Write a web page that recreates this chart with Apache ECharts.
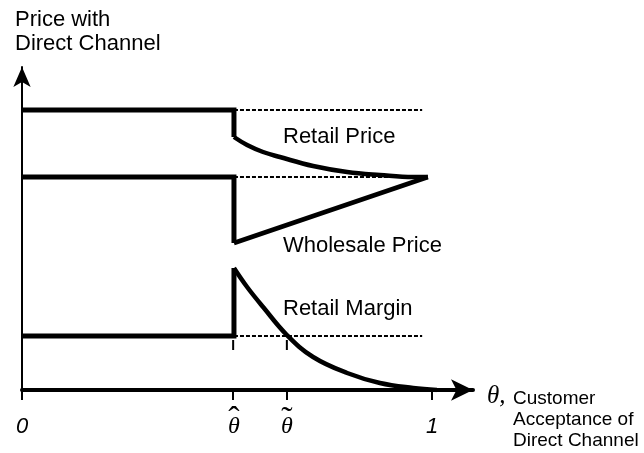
<!DOCTYPE html>
<html>
<head>
<meta charset="utf-8">
<script src="https://cdn.jsdelivr.net/npm/echarts@6/dist/echarts.min.js"></script>
<style>
  html, body { margin: 0; padding: 0; background: #fff; }
  #chart { width: 644px; height: 453px; }
</style>
</head>
<body>
<div id="chart"></div>
<script>
// positions of the two thresholds on the theta axis (0..1)
const thetaHat = 0.517;
const thetaTilde = 0.646;

// x axis ticks and their labels
const xTicks = [0, thetaHat, thetaTilde, 1];
const xTickLabels = ['{s|0}', '{t|θ}', '{t|θ}', '{s|1}'];
// accents drawn above the two theta labels
const accentTicks = [thetaHat, thetaTilde];
const accentLabels = ['ˆ', '˜'];

// retail price: flat level, drop at thetaHat, then decays to wholesale level
const retailStep = [[0, 280], [0.517, 280], [0.517, 253]];
const retailCurve = [[0.517, 253], [0.549, 245], [0.588, 238], [0.629, 233], [0.71, 224], [0.793, 218], [0.873, 215], [0.954, 213], [0.99, 213]];

// wholesale price: flat level, drop at thetaHat, then rises linearly
const wholesaleStep = [[0, 213], [0.517, 213], [0.517, 147]];
const wholesaleCurve = [[0.517, 147], [0.99, 213]];

// retail margin: flat level, jump at thetaHat, then decays to zero
const marginStep = [[0, 54], [0.517, 54], [0.517, 122]];
const marginCurve = [[0.517, 122], [0.549, 103], [0.588, 83], [0.646, 55], [0.71, 33], [0.793, 17], [0.873, 7], [0.954, 2], [1.012, 0]];

// dotted reference levels (the flat values before thetaHat)
const refLevels = [280, 213, 54];
const refEnd = 0.976;

// small marks below the margin reference line
const markXs = [0.515, thetaTilde];
const markRange = [50, 40];

const chart = echarts.init(document.getElementById('chart'));

const series = [];
function addLine(data, width, type, smooth) {
  series.push({
    type: 'line',
    data: data,
    showSymbol: false,
    smooth: smooth || false,
    silent: true,
    lineStyle: { color: '#000', width: width, type: type || 'solid', join: 'miter', cap: 'butt' }
  });
}

refLevels.forEach(v => addLine([[thetaHat, v], [refEnd, v]], 2, [4, 2]));
markXs.forEach(x => addLine([[x, markRange[0]], [x, markRange[1]]], 2));

addLine(retailStep, 5);
addLine(retailCurve, 4.5, 'solid', 0.4);
addLine(wholesaleStep, 5);
addLine(wholesaleCurve, 4.5);
addLine(marginStep, 5);
addLine(marginCurve, 4.5, 'solid', 0.4);

const sans = 'Liberation Sans, Arial, sans-serif';
const serif = 'Liberation Serif, Times New Roman, serif';

chart.setOption({
  animation: false,
  backgroundColor: '#fff',
  grid: { left: 22, right: 171, top: 67, bottom: 63 },
  xAxis: [{
    type: 'value',
    position: 'bottom',
    min: 0,
    max: 1.1,
    axisLine: {
      show: true,
      symbol: ['none', 'arrow'],
      symbolSize: [16, 22],
      lineStyle: { color: '#000', width: 4 }
    },
    axisTick: {
      show: true,
      customValues: [0, 0.515, thetaTilde, 1],
      length: 10,
      lineStyle: { color: '#000', width: 2 }
    },
    axisLabel: {
      customValues: xTicks,
      margin: 24,
      formatter: v => xTickLabels[xTicks.indexOf(v)],
      rich: {
        s: { fontFamily: sans, fontStyle: 'italic', fontSize: 22, color: '#000', lineHeight: 26 },
        t: { fontFamily: serif, fontStyle: 'italic', fontSize: 24, color: '#000', lineHeight: 26 }
      }
    },
    splitLine: { show: false }
  }, {
    type: 'value',
    position: 'bottom',
    min: 0,
    max: 1.1,
    axisLine: { show: false },
    axisTick: { show: false },
    axisLabel: {
      customValues: accentTicks,
      margin: 14,
      formatter: v => accentLabels[accentTicks.indexOf(v)],
      fontFamily: serif,
      fontSize: 34,
      color: '#000'
    },
    splitLine: { show: false }
  }],
  yAxis: {
    type: 'value',
    min: 0,
    max: 323,
    axisLine: {
      show: true,
      symbol: ['none', 'arrow'],
      symbolSize: [13, 20],
      lineStyle: { color: '#000', width: 2 }
    },
    axisTick: { show: false },
    axisLabel: { show: false },
    splitLine: { show: false }
  },
  graphic: [
    { type: 'text', left: 15, top: 8, style: { text: 'Price with\nDirect Channel', font: '22px ' + sans, lineHeight: 24, fill: '#000' } },
    { type: 'text', x: 283, y: 137, style: { text: 'Retail Price', font: '22px ' + sans, verticalAlign: 'middle', fill: '#000' } },
    { type: 'text', x: 283, y: 246, style: { text: 'Wholesale Price', font: '22px ' + sans, verticalAlign: 'middle', fill: '#000' } },
    { type: 'text', x: 283, y: 309, style: { text: 'Retail Margin', font: '22px ' + sans, verticalAlign: 'middle', fill: '#000' } },
    { type: 'text', x: 487, y: 396, style: { text: 'θ,', font: 'italic 25px ' + serif, verticalAlign: 'middle', fill: '#000' } },
    { type: 'text', x: 513, y: 388, style: { text: 'Customer\nAcceptance of\nDirect Channel', font: '19px ' + sans, lineHeight: 21, verticalAlign: 'top', fill: '#000' } }
  ],
  series: series
});
</script>
</body>
</html>
